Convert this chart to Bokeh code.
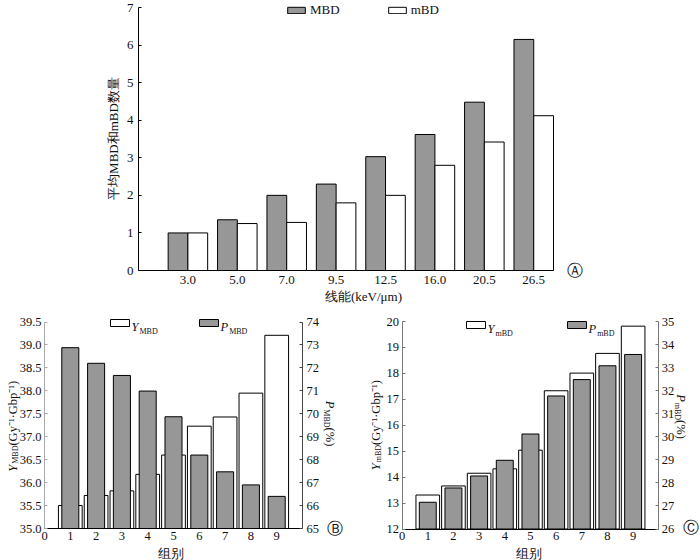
import math
from bokeh.plotting import figure
from bokeh.models import (Range1d, LinearAxis, FixedTicker, Label, BoxAnnotation,
                          Legend, LegendItem, NumeralTickFormatter, ColumnDataSource)
from bokeh.layouts import column, row
from bokeh.transform import dodge
from bokeh.embed import file_html
from bokeh.resources import INLINE

# ---------------- data ----------------
let_labels = ["3.0", "5.0", "7.0", "9.5", "12.5", "16.0", "20.5", "26.5"]
mbd_mean = [1.0, 1.35, 2.0, 2.3, 3.03, 3.62, 4.48, 6.15]
mbd_small_mean = [1.0, 1.25, 1.28, 1.8, 2.0, 2.8, 3.42, 4.12]

groups = [1, 2, 3, 4, 5, 6, 7, 8, 9]
y_MBD = [35.50, 35.72, 35.82, 36.18, 36.60, 37.23, 37.43, 37.95, 39.21]
p_MBD = [72.88, 72.20, 71.67, 70.99, 69.87, 68.20, 67.47, 66.90, 66.40]
y_mBD = [13.31, 13.66, 14.15, 14.32, 15.04, 17.33, 18.01, 18.77, 19.82]
p_mBD = [27.16, 27.78, 28.30, 28.98, 30.12, 31.77, 32.48, 33.08, 33.57]

yA_ticks = [0, 1, 2, 3, 4, 5, 6, 7]
yB_ticks = [35.0, 35.5, 36.0, 36.5, 37.0, 37.5, 38.0, 38.5, 39.0, 39.5]
pB_ticks = [65, 66, 67, 68, 69, 70, 71, 72, 73, 74]
yC_ticks = [12, 13, 14, 15, 16, 17, 18, 19, 20]
pC_ticks = [26, 27, 28, 29, 30, 31, 32, 33, 34, 35]
grp_ticks = [0, 1, 2, 3, 4, 5, 6, 7, 8, 9]

SERIF = "Liberation Serif"
GRAY = "#979797"
TXT = "#111111"


class Map:
    """pixel <-> data mapping for a figure whose frame fills the whole canvas"""
    def __init__(self, W, H, px0, px1, x0, x1, py0, py1, y0, y1):
        self.W, self.H = W, H
        self.kx = (x1 - x0) / (px1 - px0)
        self.x0 = x0 - px0 * self.kx
        self.ky = (y1 - y0) / (py1 - py0)
        self.y0 = y0 - py0 * self.ky

    def x(self, px):
        return self.x0 + px * self.kx

    def y(self, py):
        return self.y0 + py * self.ky

    def xr(self):
        return Range1d(self.x(0), self.x(self.W))

    def yr(self):
        return Range1d(self.y(self.H), self.y(0))


EM = {'Y': .556, 'P': .611, 'M': .889, 'B': .667, 'D': .722, 'm': .778, '(': .333,
      ')': .333, 'G': .722, 'y': .5, 'b': .5, 'p': .5, '·': .25, '⁻': .42, '¹': .3, '%': .833}


def est(text, size):
    return sum(EM.get(c, .5) for c in text) * size


def piece_len(t, s, st):
    return est(t, s) + (1.0 if st == "italic" else 0.0)


def rich(p, m, pieces, px, py, direction, subshift=3.0):
    pos = 0.0
    for text, size, style, sub in pieces:
        if direction == 'h':
            x, y, ang = px + pos, py + (subshift if sub else 0), 0.0
        elif direction == 'up':
            x, y, ang = px + (subshift if sub else 0), py - pos, math.pi / 2
        else:
            x, y, ang = px - (subshift if sub else 0), py + pos, -math.pi / 2
        p.add_layout(Label(x=m.x(x), y=m.y(y), text=text, angle=ang,
                           text_align="left", text_baseline="alphabetic",
                           text_font=SERIF, text_font_size=f"{size}px",
                           text_font_style=style, text_color=TXT))
        pos += piece_len(text, size, style)


def rich_len(pieces):
    return sum(piece_len(t, s, st) for t, s, st, _ in pieces)


def text_at(p, m, px, py, text, size, font=SERIF, angle=0.0):
    p.add_layout(Label(x=m.x(px), y=m.y(py), text=text, angle=angle,
                       text_align="center", text_baseline="middle",
                       text_font=font, text_font_size=f"{size}px", text_color=TXT))


def style_axis(ax, size, color="black", tick_in=3, standoff=3):
    ax.axis_line_color = color
    ax.major_tick_line_color = color
    ax.minor_tick_line_color = None
    ax.major_tick_out = 0
    ax.major_tick_in = tick_in
    ax.major_label_standoff = standoff
    ax.major_label_text_font = SERIF
    ax.major_label_text_font_size = size
    ax.major_label_text_color = TXT


def base_fig(W, H, m):
    p = figure(width=W, height=H, x_range=m.xr(), y_range=m.yr(),
               output_backend="svg", toolbar_location=None,
               x_axis_location=None, y_axis_location=None,
               min_border=0, min_border_left=0, min_border_right=0,
               min_border_top=0, min_border_bottom=0)
    p.outline_line_color = None
    p.grid.visible = False
    return p


# ---------------- panel A ----------------
WA, HA = 700, 305
nA = len(let_labels)
mA = Map(WA, HA, 138, 553, 0, nA + 0.4, 7, 270, 7, 0)
pA = base_fig(WA, HA, mA)
srcA = ColumnDataSource(dict(x=list(range(1, nA + 1)), big=mbd_mean, small=mbd_small_mean))
rA1 = pA.vbar(x=dodge('x', -0.2, range=pA.x_range), top='big', bottom=0, width=0.4,
              source=srcA, fill_color=GRAY, line_color="black", line_width=1)
rA2 = pA.vbar(x=dodge('x', 0.2, range=pA.x_range), top='small', bottom=0, width=0.4,
              source=srcA, fill_color="white", line_color="black", line_width=1)
xa = LinearAxis(fixed_location=0, bounds=(0, nA + 0.4),
                ticker=FixedTicker(ticks=list(range(1, nA + 1))))
style_axis(xa, "13px", tick_in=0, standoff=5)
xa.major_label_overrides = {i + 1: lab for i, lab in enumerate(let_labels)}
pA.add_layout(xa, "below")
ya = LinearAxis(fixed_location=0, bounds=(yA_ticks[0], yA_ticks[-1]),
                ticker=FixedTicker(ticks=yA_ticks))
style_axis(ya, "13px", tick_in=3, standoff=5)
pA.add_layout(ya, "left")
text_at(pA, mA, 113, 138, "平均MBD和mBD数量", 13, angle=math.pi / 2)
text_at(pA, mA, 363, 296, "线能(keV/μm)", 13)
text_at(pA, mA, 574, 270, "Ⓐ", 16, font="DejaVu Sans")
legA = Legend(items=[LegendItem(label="MBD", renderers=[rA1]),
                     LegendItem(label="mBD", renderers=[rA2])],
              orientation="horizontal", location=(285, HA - 18),
              glyph_width=22, glyph_height=8, label_standoff=3, spacing=46,
              border_line_color=None, background_fill_alpha=0, padding=0, margin=0,
              label_text_font=SERIF, label_text_font_size="13px", label_height=8,
              label_width=20, label_text_color=TXT)
pA.add_layout(legA)


# ---------------- panels B and C ----------------
def group_panel(px0, px1, py_top, py_bot, yr, pr, yticks, pticks, yvals, pvals, name,
                letter, left_color, right_color, leg, ylab_x, ylab_c, plab_x, plab_c,
                letter_xy, xlab_x, fmt, r_standoff):
    W, H = 350, 255
    m = Map(W, H, px0, px1, 0, 10, py_top, py_bot, yr[1], yr[0])
    mp = Map(W, H, px0, px1, 0, 10, py_top, py_bot, pr[1], pr[0])
    p = base_fig(W, H, m)
    p.extra_y_ranges = {"p": mp.yr()}
    src = ColumnDataSource(dict(g=groups, yv=yvals, pv=pvals))
    p.vbar(x='g', top='yv', bottom=yr[0], width=0.92, source=src,
           fill_color="white", line_color="black", line_width=1)
    p.vbar(x='g', top='pv', bottom=pr[0], width=0.66, source=src, y_range_name="p",
           fill_color=GRAY, line_color="black", line_width=1)
    xa = LinearAxis(fixed_location=yr[0], bounds=(0, 10), ticker=FixedTicker(ticks=grp_ticks))
    style_axis(xa, "12.5px", tick_in=0, standoff=3)
    p.add_layout(xa, "below")
    ya = LinearAxis(fixed_location=0, bounds=yr, ticker=FixedTicker(ticks=yticks))
    style_axis(ya, "12.5px", color=left_color, tick_in=3, standoff=3)
    if fmt:
        ya.formatter = NumeralTickFormatter(format=fmt)
    p.add_layout(ya, "left")
    ra = LinearAxis(y_range_name="p", fixed_location=10, bounds=pr,
                    ticker=FixedTicker(ticks=pticks))
    style_axis(ra, "12.5px", color=right_color, tick_in=3, standoff=r_standoff)
    p.add_layout(ra, "right")

    lp = [("Y", 12.5, "italic", False), (name, 8, "normal", True),
          ("(Gy⁻¹·Gbp⁻¹)", 12.5, "normal", False)]
    rich(p, m, lp, ylab_x, ylab_c + rich_len(lp) / 2, 'up')
    rp = [("P", 12.5, "italic", False), (name, 8, "normal", True),
          ("(%)", 12.5, "normal", False)]
    rich(p, m, rp, plab_x, plab_c - rich_len(rp) / 2, 'down')

    for (bx, by, fill, sym) in leg:
        p.add_layout(BoxAnnotation(left=m.x(bx), right=m.x(bx + 19),
                                   top=m.y(by), bottom=m.y(by + 7),
                                   fill_color=fill, fill_alpha=1,
                                   line_color="black", line_alpha=1, line_width=1))
        rich(p, m, [(sym, 12.5, "italic", False), (name, 8, "normal", True)],
             bx + 21, by + 7, 'h', subshift=4.5)
    text_at(p, m, letter_xy[0], letter_xy[1], letter, 16, font="DejaVu Sans")
    text_at(p, m, xlab_x, 248, "组别", 13)
    return p


pB = group_panel(44, 302, 16.5, 223, (35, 39.5), (65, 74), yB_ticks, pB_ticks,
                 y_MBD, p_MBD, "MBD", "Ⓑ", "#aaaaaa", "#444444",
                 [(110, 14, "white", "Y"), (199, 14, GRAY, "P")],
                 12, 120, 329, 118, (334, 223), 170, "0.0", 4)
pC = group_panel(51.6, 308.3, 16, 223.5, (12, 20), (26, 35), yC_ticks, pC_ticks,
                 y_mBD, p_mBD, "mBD", "Ⓒ", "#777777", "#777777",
                 [(116, 16, "white", "Y"), (217, 16, GRAY, "P")],
                 25, 119, 330, 111, (340, 222), 178, None, 3)

layout = column(pA, row(pB, pC))
open("out.html", "w").write(file_html(layout, INLINE))
